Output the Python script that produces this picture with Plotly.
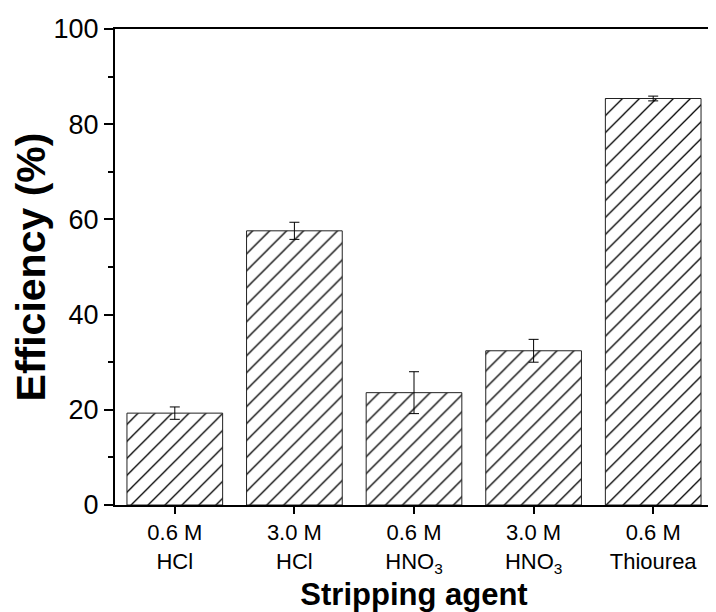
import plotly.graph_objects as go

categories = ["0.6 M<br>HCl", "3.0 M<br>HCl", "0.6 M<br>HNO<sub>3</sub>", "3.0 M<br>HNO<sub>3</sub>", "0.6 M<br>Thiourea"]
efficiency = [19.3, 57.6, 23.6, 32.4, 85.4]
errors = [1.3, 1.8, 4.4, 2.4, 0.5]
y_ticks = [0, 20, 40, 60, 80, 100]

fig = go.Figure()
fig.add_trace(go.Bar(
    x=list(range(len(categories))),
    y=efficiency,
    width=0.8,
    marker=dict(
        color="white",
        line=dict(color="#222222", width=1),
        pattern=dict(shape="/", fgcolor="black", bgcolor="white", size=12, solidity=0.11,
                     fgopacity=1, fillmode="replace"),
    ),
    error_y=dict(type="data", array=errors, visible=True, color="black", thickness=1, width=5),
))

font = "Arial, Liberation Sans, sans-serif"
# page body has an 8px default margin, so the figure is sized to fit the window
fig.update_layout(
    width=708, height=604,
    margin=dict(l=107, r=1, t=21, b=107),
    plot_bgcolor="white", paper_bgcolor="white",
    showlegend=False,
    font=dict(family=font, color="black"),
)
fig.update_xaxes(
    range=[-0.5, 4.5],
    tickmode="array", tickvals=list(range(len(categories))), ticktext=categories,
    ticks="outside", ticklen=7, tickwidth=1.5, tickcolor="black",
    tickfont=dict(size=22, family=font),
    showline=True, linecolor="black", linewidth=2, mirror=True,
    showgrid=False, zeroline=False,
    title=dict(text="<b>Stripping agent</b>", font=dict(size=31, family=font), standoff=0),
)
fig.update_yaxes(
    range=[0, 100],
    tickmode="array", tickvals=y_ticks,
    ticks="outside", ticklen=9, tickwidth=1.5, tickcolor="black",
    minor=dict(ticks="outside", ticklen=5, tickwidth=1.5, tickcolor="black", dtick=10),
    tickfont=dict(size=27, family=font),
    showline=True, linecolor="black", linewidth=2, mirror=True,
    showgrid=False, zeroline=False,
    title=dict(text="<b>Efficiency (%)</b>", font=dict(size=41, family=font), standoff=6),
)
fig.write_html("out.html")
